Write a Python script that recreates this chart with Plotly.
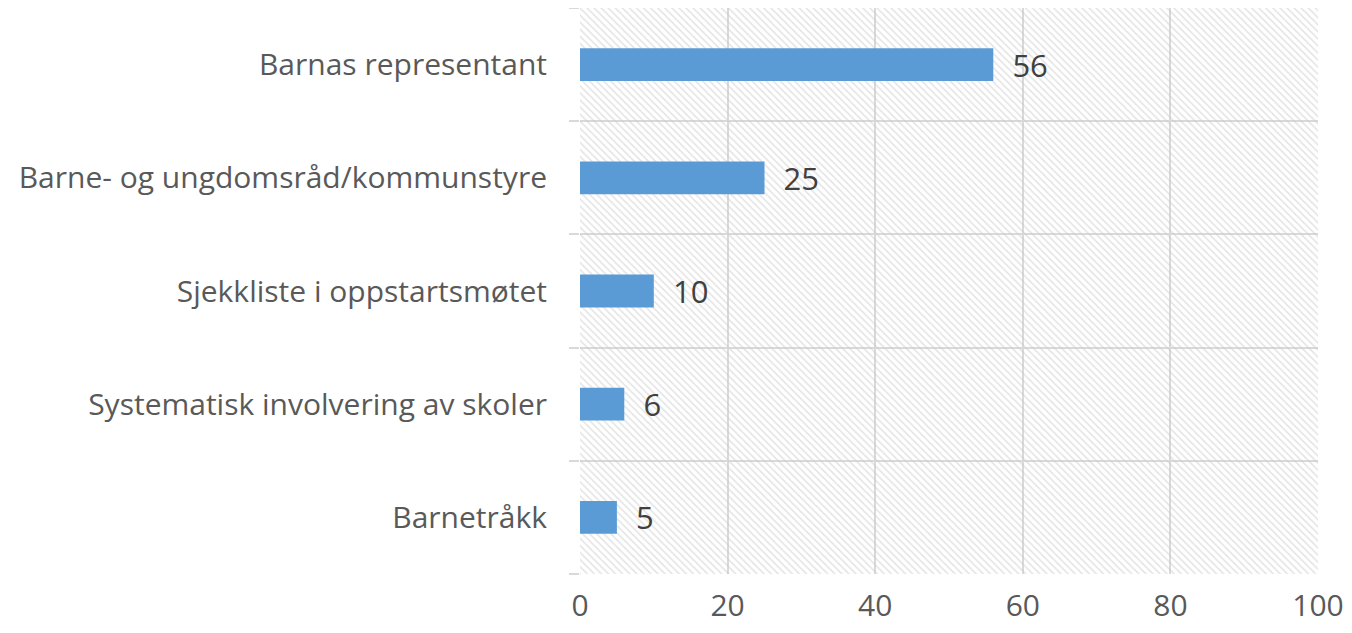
import plotly.graph_objects as go

categories = [
    "Barnas representant",
    "Barne- og ungdomsråd/kommunstyre",
    "Sjekkliste i oppstartsmøtet",
    "Systematisk involvering av skoler",
    "Barnetråkk",
]
values = [56, 25, 10, 6, 5]
x_ticks = [0, 20, 40, 60, 80, 100]
x_max = 100

# bottom-to-top order for the category axis
cats_bt = categories[::-1]
vals_bt = values[::-1]

GRID = "#d9d9d9"
LABEL = "#595959"
FONT = "Open Sans"

fig = go.Figure()

# hatched plot-area background (one band per category, full axis length)
fig.add_trace(go.Bar(
    y=cats_bt, x=[x_max] * len(cats_bt), orientation="h", width=1,
    marker=dict(color="rgba(0,0,0,0)", line=dict(width=0),
                pattern=dict(shape="\\", size=5, solidity=0.3,
                             fgcolor="#c8c8c8", bgcolor="rgba(0,0,0,0)")),
    hoverinfo="skip", showlegend=False,
))

fig.add_trace(go.Bar(
    y=cats_bt, x=vals_bt, orientation="h", width=0.29,
    marker=dict(color="#5B9BD5", line=dict(width=0)),
    text=vals_bt, texttemplate="\u00a0\u00a0%{x}", textposition="outside",
    constraintext="none",
    textfont=dict(family=FONT, size=31, color="#404040"),
    cliponaxis=False, showlegend=False,
))

# invisible helper trace on boundary axis so it is rendered
fig.add_trace(go.Scatter(x=[None], y=[None], yaxis="y2", showlegend=False, hoverinfo="skip"))

fig.update_layout(
    width=1340, height=617,
    margin=dict(l=572, r=30, t=0, b=51),
    paper_bgcolor="white", plot_bgcolor="white",
    barmode="overlay",
    xaxis=dict(range=[0, x_max], tickvals=x_ticks, showgrid=True, gridcolor=GRID,
               gridwidth=2, zeroline=False, showline=False, ticks="",
               ticklabelstandoff=11, automargin=False,
               tickfont=dict(family=FONT, size=30, color=LABEL)),
    yaxis=dict(type="category", categoryorder="array", categoryarray=cats_bt,
               range=[-0.5, len(cats_bt) - 0.5], showgrid=False, zeroline=False,
               showline=False, ticks="", ticklabelstandoff=32, automargin=False,
               tickfont=dict(family=FONT, size=30, color=LABEL)),
    yaxis2=dict(overlaying="y", range=[-0.5, len(cats_bt) - 0.5],
                tickvals=[i - 0.5 for i in range(len(cats_bt) + 1)],
                showticklabels=False, showgrid=True, gridcolor=GRID, gridwidth=2,
                ticks="outside", ticklen=10, tickcolor=GRID, tickwidth=2,
                zeroline=False, showline=False, automargin=False),
)

fig.write_html("out.html")
